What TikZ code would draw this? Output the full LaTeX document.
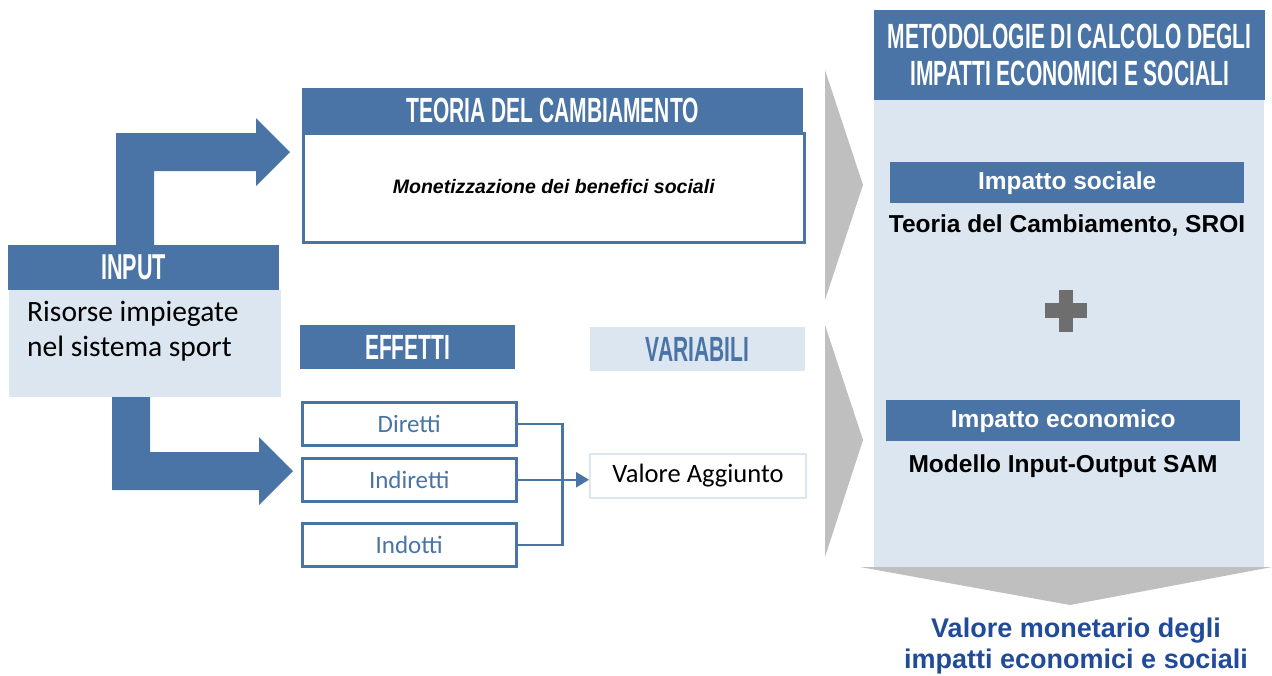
\documentclass[tikz,border=0pt]{standalone}
\usepackage{fontspec}
\setmainfont{Liberation Sans}
\newfontfamily\headfont[FakeStretch=0.6]{Liberation Sans Bold}
\newfontfamily\calfont{Carlito}
\usetikzlibrary{arrows.meta, positioning}
\definecolor{sportblue}{HTML}{4A74A5}
\definecolor{paleblue}{HTML}{DCE6F1}
\definecolor{chevgray}{HTML}{BFBFBF}
\definecolor{plusgray}{HTML}{6E6E6E}
\definecolor{navy}{HTML}{1F4B99}
\tikzstyle{titlebar} = [rectangle, fill=sportblue, text=white, inner sep=0pt, anchor=north west, font=\headfont\fontsize{35}{37}\selectfont]
\tikzstyle{effbox} = [rectangle, draw=sportblue, line width=2.5pt, fill=white, text=sportblue, inner sep=0pt, anchor=north west, minimum width=214pt, minimum height=43pt, font=\calfont\fontsize{25}{28}\selectfont]
\tikzstyle{impbar} = [rectangle, fill=sportblue, text=white, inner sep=0pt, anchor=north west, minimum width=354pt, minimum height=41pt, font=\bfseries\fontsize{24.5}{27}\selectfont]
\tikzstyle{boldtxt} = [font=\bfseries\fontsize{24.5}{27}\selectfont]
\tikzstyle{line} = [draw=sportblue, line width=2.5pt]
\tikzstyle{link} = [line, -{Triangle[length=13pt,width=15pt]}]

\begin{document}
\begin{tikzpicture}[x=1pt, y=-1pt]
\useasboundingbox (0,0) rectangle (1272,675);
% big arrows from the input
\fill[sportblue] (116,245) -- (116,133) -- (256,133) -- (256,118) -- (290,152) -- (256,186) -- (256,171) -- (154,171) -- (154,245) -- cycle;
\fill[sportblue] (112,393) -- (112,490) -- (259,490) -- (259,505) -- (293,471) -- (259,437) -- (259,452) -- (150,452) -- (150,393) -- cycle;
% grey chevrons
\fill[chevgray] (825,70) -- (863,185) -- (825,300) -- cycle;
\fill[chevgray] (825,325) -- (863,440) -- (825,557) -- cycle;
\node [titlebar, minimum width=271pt, minimum height=45pt, font=\headfont\fontsize{36}{38}\selectfont] (inputhead) at (8,245) {\hspace*{-20pt}INPUT};
\node [rectangle, fill=paleblue, anchor=north west, inner sep=0pt, minimum width=272pt, minimum height=107pt] (inputbody) at (9,290) {};
\node [anchor=north west, align=left, inner sep=0pt, font=\calfont\fontsize{29.5}{35}\selectfont] (inputtext) at (27,301) {Risorse impiegate\\nel sistema sport};
\node [titlebar, minimum width=501pt, minimum height=44pt] (teoriahead) at (302,88) {TEORIA DEL CAMBIAMENTO};
\node [rectangle, draw=sportblue, line width=2.5pt, anchor=north west, inner sep=0pt, minimum width=501pt, minimum height=109pt, font=\bfseries\itshape\fontsize{19.5}{22}\selectfont] (teoriabody) at (302,132) {\raisebox{2pt}{Monetizzazione dei benefici sociali}};
\node [titlebar, minimum width=215pt, minimum height=44pt] (effetti) at (300,325) {EFFETTI};
\node [titlebar, fill=paleblue, text=sportblue, minimum width=215pt, minimum height=44pt] (variabili) at (590,327) {VARIABILI};
\node [effbox] (diretti) at (301,401) {Diretti};
\node [effbox] (indiretti) at (301,457) {Indiretti};
\node [effbox] (indotti) at (301,522) {Indotti};
\node [rectangle, draw=paleblue, line width=2pt, fill=white, anchor=north west, inner sep=0pt, minimum width=216pt, minimum height=44pt, font=\calfont\fontsize{26.5}{29}\selectfont] (valoreagg) at (589,453) {Valore Aggiunto};
\coordinate [right=45pt of diretti.east] (jtop);
\path [line] (diretti.east) -- (jtop) |- (indotti.east);
\path [link] (indiretti.east) -- (valoreagg.west |- indiretti.east);
% right column
\node [rectangle, fill=paleblue, anchor=north west, inner sep=0pt, minimum width=390pt, minimum height=467pt] (metodbody) at (874,100) {};
\node [titlebar, minimum width=391pt, minimum height=90pt, align=center] (metodhead) at (874,10) {METODOLOGIE DI CALCOLO DEGLI\\IMPATTI ECONOMICI E SOCIALI};
\node [impbar] (sociale) at (890,162) {Impatto sociale};
\node [boldtxt] (socialetxt) at (1067,226) {Teoria del Cambiamento, SROI};
\fill[plusgray] (1045,303) rectangle (1087,318);
\fill[plusgray] (1059,290) rectangle (1073,332);
\node [impbar] (economico) at (886,400) {Impatto economico};
\node [boldtxt] (economicotxt) at (1063,466) {Modello Input-Output SAM};
\fill[chevgray] (860,567) -- (1272,567) -- (1070,605) -- cycle;
\node [align=center, text=navy, font=\bfseries\fontsize{27}{31}\selectfont] (valoremon) at (1076,646) {Valore monetario degli\\impatti economici e sociali};
\end{tikzpicture}
\end{document}
